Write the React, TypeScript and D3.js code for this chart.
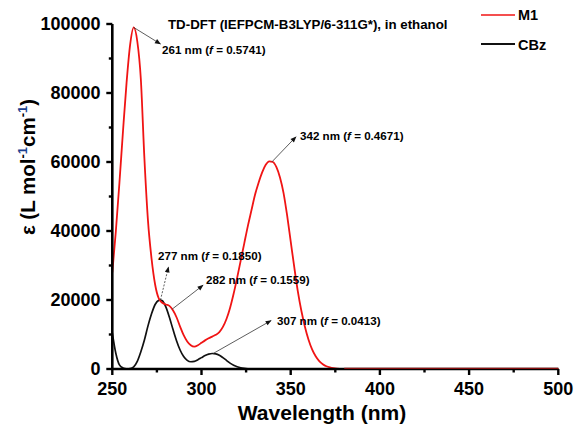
import React from "react";
import * as d3 from "d3";

// ---- data ----
const m1Wavelength = [250,252,254,256,258,260,262,264,266,268,270,272,274,276,278,280,282,284,286,288,290,292,294,296,298,300,302,304,306,308,310,312,314,316,318,320,322,324,326,328,330,332,334,336,338,340,342,344,346,348,350,352,354,356,358,360,362,364,366,368,370,372,374,376,378,380,500];
const m1Epsilon = [28000,40000,54000,69000,83000,94000,99000,95000,84000,61000,43000,32000,24500,20500,19200,18700,18300,17000,15000,12300,9800,8000,6900,6500,6900,7600,8300,8900,9400,9900,10700,12200,14500,17700,21800,26500,31500,36500,41500,46000,50500,54000,57000,59200,60200,60000,58500,55500,51000,44500,37000,29500,22500,16800,12200,8500,5700,3700,2300,1400,800,450,230,100,40,0,0];
const cbzWavelength = [250,252,254,256,258,260,262,264,266,268,270,272,274,276,277,278,280,282,284,286,288,290,292,294,296,298,300,302,304,306,308,310,312,314,316,318,320,322,324,326,328,330,500];
const cbzEpsilon = [10500,4500,1200,300,50,100,600,2200,5000,8400,12500,16000,18700,19900,20000,19800,18000,15000,11500,8200,5500,3600,2500,2100,2200,2700,3300,3900,4300,4500,4400,4000,3300,2500,1700,1100,650,350,180,80,30,0,0];

const xTicks = [250, 300, 350, 400, 450, 500];
const xMinorTicks = [275, 325, 375, 425, 475];
const yTicks = [0, 20000, 40000, 60000, 80000, 100000];
const yMinorTicks = [10000, 30000, 50000, 70000, 90000];

const seriesNames = ["M1", "CBz"];
const titleText = "TD-DFT (IEFPCM-B3LYP/6-311G*), in ethanol";
const xTitle = "Wavelength (nm)";

// annotations: wavelength label, oscillator strength, series, anchor wavelength
const annLabels = ["261 nm", "342 nm", "277 nm", "282 nm", "307 nm"];
const annF = ["0.5741", "0.4671", "0.1850", "0.1559", "0.0413"];
const annSeries = ["M1", "M1", "CBz", "M1", "CBz"];
const annAnchorNm = [262, 339.5, 277, 283.5, 306.5];

// ---- layout (pixels) ----
const W = 576, H = 431;
const annLayout = [
  { tdx: 26.7, tdy: 16.5, tx: 162, ty: 54, dashed: false },
  { tdx: 24, tdy: -25, tx: 300, ty: 140, dashed: false },
  { tdx: 8, tdy: -33, tx: 158, ty: 260, dashed: true },
  { tdx: 31, tdy: -24, tx: 206, ty: 284, dashed: false },
  { tdx: 58, tdy: -33, tx: 277, ty: 325, dashed: false },
];

function interp(xs: number[], ys: number[], v: number) {
  for (let i = 0; i < xs.length - 1; i++) {
    if (v >= xs[i] && v <= xs[i + 1]) {
      const t = (v - xs[i]) / (xs[i + 1] - xs[i]);
      return ys[i] + t * (ys[i + 1] - ys[i]);
    }
  }
  return 0;
}

export default function App() {
  const x = d3.scaleLinear().domain([250, 500]).range([112.3, 558.3]);
  const y = d3.scaleLinear().domain([0, 100000]).range([369, 24]);
  const line = d3
    .line<[number, number]>()
    .x((d) => x(d[0]))
    .y((d) => y(d[1]))
    .curve(d3.curveMonotoneX);
  const m1Pts = m1Wavelength.map((w, i) => [w, m1Epsilon[i]] as [number, number]);
  const cbzPts = cbzWavelength.map((w, i) => [w, cbzEpsilon[i]] as [number, number]);
  const font = "'Liberation Sans', Arial, sans-serif";
  const red = "#f01414";

  return (
    <svg width={W} height={H} style={{ position: "absolute", left: 0, top: 0, background: "#fff" }} fontFamily={font}>
      <defs>
        <marker id="ah" viewBox="0 0 10 10" refX="9" refY="5" markerWidth="7" markerHeight="6" orient="auto" markerUnits="userSpaceOnUse">
          <path d="M0,1 L10,5 L0,9 Z" fill="#111" />
        </marker>
      </defs>

      {/* curves */}
      <path d={line(cbzPts) || ""} fill="none" stroke="#111" strokeWidth={1.7} />
      <path d={line(m1Pts) || ""} fill="none" stroke={red} strokeWidth={1.8} />

      {/* axes */}
      <line x1={x(250)} x2={x(500)} y1={y(0)} y2={y(0)} stroke="#000" strokeWidth={2.6} />
      <line x1={x(250)} x2={x(250)} y1={y(0)} y2={y(100000)} stroke="#000" strokeWidth={2.6} />
      <line x1={x(380)} x2={x(500)} y1={y(0) - 0.6} y2={y(0) - 0.6} stroke="#8a1010" strokeWidth={1.4} />
      {xTicks.map((t) => (
        <g key={"xt" + t}>
          <line x1={x(t)} x2={x(t)} y1={y(0)} y2={y(0) + 6} stroke="#000" strokeWidth={2.4} />
          <text x={x(t)} y={395} textAnchor="middle" fontSize={18} fontWeight="bold">{t}</text>
        </g>
      ))}
      {xMinorTicks.map((t) => (
        <line key={"xm" + t} x1={x(t)} x2={x(t)} y1={y(0)} y2={y(0) + 3.5} stroke="#000" strokeWidth={2.4} />
      ))}
      {yTicks.map((t) => (
        <g key={"yt" + t}>
          <line x1={x(250) - 6} x2={x(250)} y1={y(t)} y2={y(t)} stroke="#000" strokeWidth={2.4} />
          <text x={100.5} y={y(t) + 6.4} textAnchor="end" fontSize={18} fontWeight="bold">{t}</text>
        </g>
      ))}
      {yMinorTicks.map((t) => (
        <line key={"ym" + t} x1={x(250) - 3.5} x2={x(250)} y1={y(t)} y2={y(t)} stroke="#000" strokeWidth={2.4} />
      ))}

      {/* axis titles */}
      <text x={322} y={420} textAnchor="middle" fontSize={21} fontWeight="bold">{xTitle}</text>
      <text transform="translate(34.5,167) rotate(-90)" textAnchor="middle" fontSize={20.5} fontWeight="bold">
        <tspan>ε (L mol</tspan>
        <tspan dy={-8} fontSize={13}>-</tspan>
        <tspan fontSize={13} fill="#1b3f8f">1</tspan>
        <tspan dy={8}>cm</tspan>
        <tspan dy={-8} fontSize={13}>-</tspan>
        <tspan fontSize={13} fill="#1b3f8f">1</tspan>
        <tspan dy={8}>)</tspan>
      </text>

      {/* title */}
      <text x={168} y={28.5} fontSize={13.3} fontWeight="bold">{titleText}</text>

      {/* legend */}
      <line x1={481} x2={515} y1={15} y2={15} stroke={red} strokeWidth={1.6} />
      <text x={518} y={20} fontSize={14.5} fontWeight="bold">{seriesNames[0]}</text>
      <line x1={481} x2={515} y1={44} y2={44} stroke="#111" strokeWidth={2} />
      <text x={518} y={49.5} fontSize={14.5} fontWeight="bold">{seriesNames[1]}</text>

      {/* annotations */}
      {annLabels.map((lab, i) => {
        const isM1 = annSeries[i] === "M1";
        const ax = x(annAnchorNm[i]);
        const ay = y(isM1 ? interp(m1Wavelength, m1Epsilon, annAnchorNm[i]) : interp(cbzWavelength, cbzEpsilon, annAnchorNm[i]));
        const L = annLayout[i];
        return (
          <g key={"ann" + i}>
            <line x1={ax} y1={ay} x2={ax + L.tdx} y2={ay + L.tdy} stroke="#333" strokeWidth={0.8}
              strokeDasharray={L.dashed ? "2,1.5" : undefined} markerEnd="url(#ah)" />
            <text x={L.tx} y={L.ty} fontSize={11.6} fontWeight="bold">
              {lab} (<tspan fontStyle="italic">f</tspan> = {annF[i]})
            </text>
          </g>
        );
      })}
    </svg>
  );
}
